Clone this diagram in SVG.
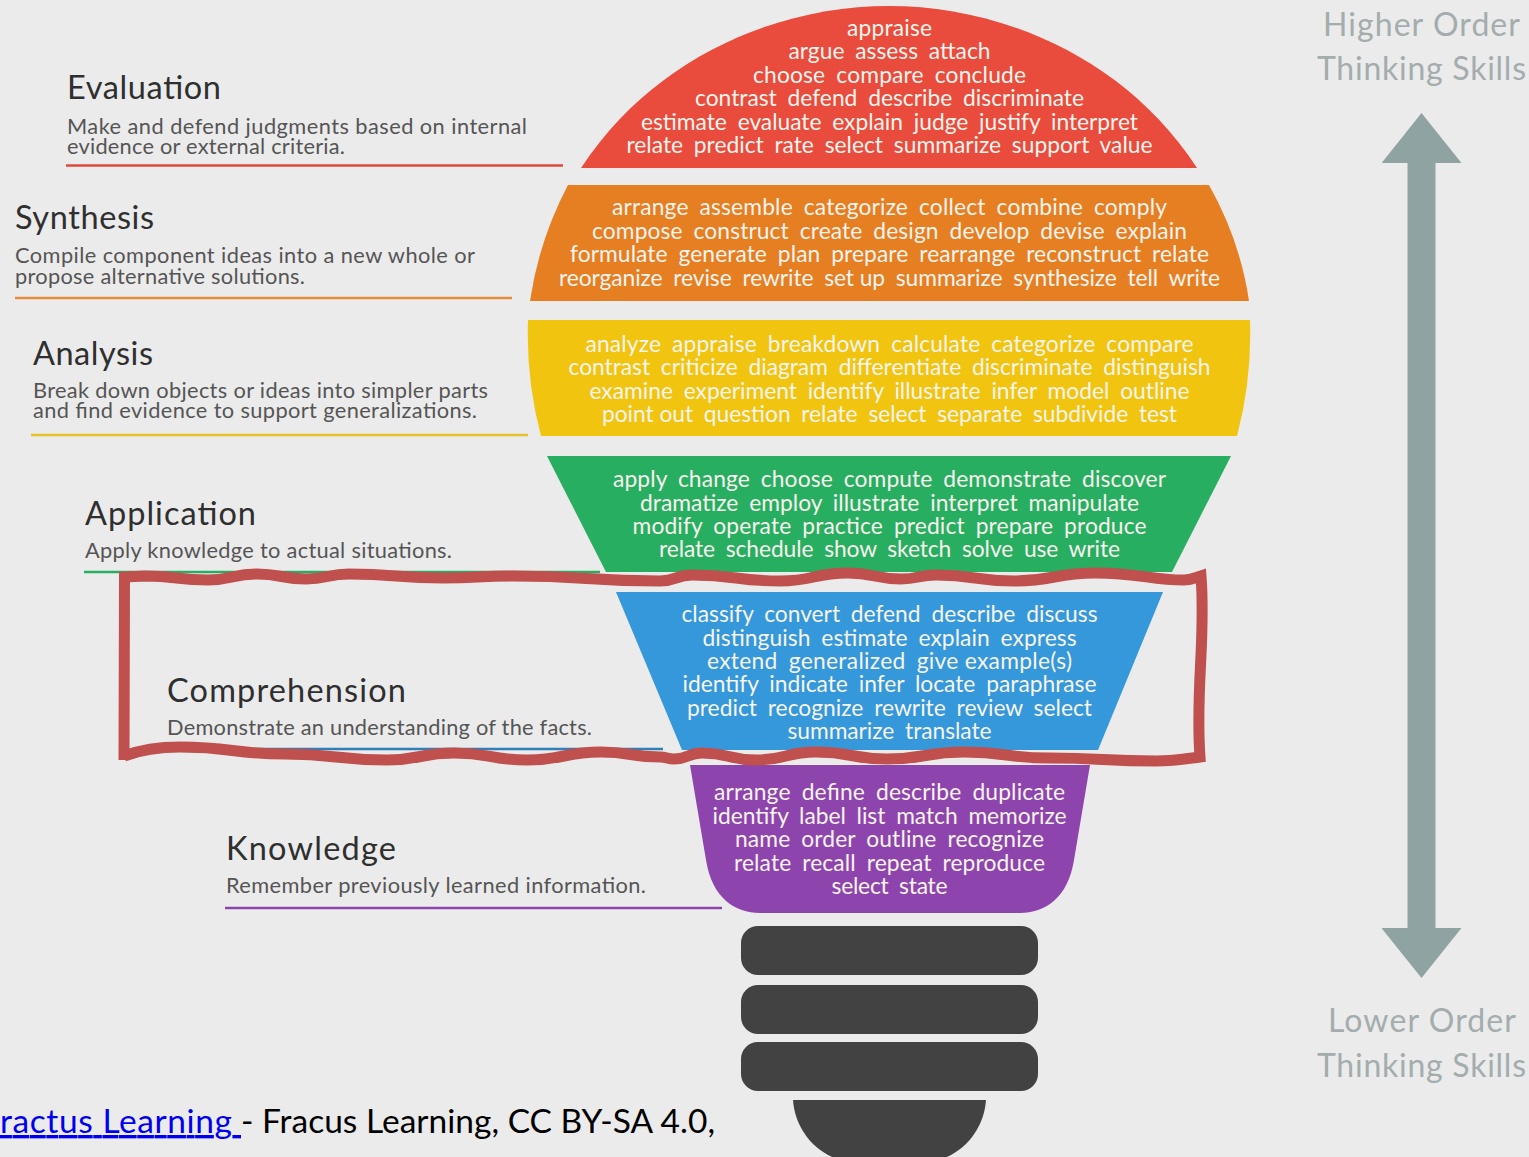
<svg xmlns="http://www.w3.org/2000/svg" width="1529" height="1157" viewBox="0 0 1529 1157">
<style>
text{font-family:Lato,"Open Sans",sans-serif}
.w{fill:#f8f4ee;font-size:22.8px;text-anchor:middle;word-spacing:5px}
.t{fill:#2f2f2f;font-size:32.500px}
.d{fill:#555;font-size:21.8px}
.s{fill:#a3adad;font-size:32px;text-anchor:middle}
.b{fill:#424242}
.r{fill:none;stroke-width:2.5}
</style>
<defs>
<marker id="ah" markerUnits="userSpaceOnUse" markerWidth="80" markerHeight="80" refX="0" refY="40" orient="auto-start-reverse" viewBox="0 0 50 80"><path d="M0 0L50 40L0 80Z" fill="#8fa3a3"/></marker>
</defs>
<rect width="1529" height="1157" fill="#ebebeb"/>
<g id="evaluation">
<path d="M581 168C655 55 780 6 889 6C998 6 1123 55 1197 168Z" fill="#e94b3c"/>
<text class="w" x="889.500" y="36" textLength="85">appraise</text>
<text class="w" x="889.500" y="59" textLength="202">argue assess attach</text>
<text class="w" x="889.500" y="83" textLength="273">choose compare conclude</text>
<text class="w" x="889.500" y="106" textLength="389">contrast defend describe discriminate</text>
<text class="w" x="889.500" y="130" textLength="497">estimate evaluate explain judge justify interpret</text>
<text class="w" x="889.500" y="153" textLength="526">relate predict rate select summarize support value</text>
<text class="t" x="67" y="99" textLength="154">Evaluation</text>
<text class="d" x="67" y="134" textLength="460">Make and defend judgments based on internal</text>
<text class="d" x="67" y="154" textLength="278">evidence or external criteria.</text>
<path class="r" d="M66 165.500H563" stroke="#e0483c"/>
</g>
<g id="synthesis">
<path d="M568 185H1209Q1240 240 1249 301H530Q539 240 568 185Z" fill="#e67e22"/>
<text class="w" x="889.500" y="215" textLength="555">arrange assemble categorize collect combine comply</text>
<text class="w" x="889.500" y="239" textLength="595">compose construct create design develop devise explain</text>
<text class="w" x="889.500" y="262" textLength="639">formulate generate plan prepare rearrange reconstruct relate</text>
<text class="w" x="889.500" y="286" textLength="661">reorganize revise rewrite <tspan style="word-spacing:0">set up</tspan> summarize synthesize tell write</text>
<text class="t" x="15" y="229" textLength="139">Synthesis</text>
<text class="d" x="15" y="263" textLength="460">Compile component ideas into a new whole or</text>
<text class="d" x="15" y="284" textLength="290">propose alternative solutions.</text>
<path class="r" d="M15 298H512" stroke="#e68a3c"/>
</g>
<g id="analysis">
<path d="M528 320H1250Q1252 380 1237 436H541Q526 380 528 320Z" fill="#f1c40f"/>
<text class="w" x="889.500" y="352" textLength="608">analyze appraise breakdown calculate categorize compare</text>
<text class="w" x="889.500" y="375" textLength="642">contrast criticize diagram differentiate discriminate distinguish</text>
<text class="w" x="889.500" y="399" textLength="600">examine experiment identify illustrate infer model outline</text>
<text class="w" x="889.500" y="422" textLength="575"><tspan style="word-spacing:0">point out</tspan> question relate select separate subdivide test</text>
<text class="t" x="33" y="365" textLength="120">Analysis</text>
<text class="d" x="33" y="398" textLength="455">Break down objects or ideas into simpler parts</text>
<text class="d" x="33" y="418" textLength="444">and find evidence to support generalizations.</text>
<path class="r" d="M31 435H528" stroke="#e8c22a"/>
</g>
<g id="application">
<path d="M547 456H1231L1172 572H606Z" fill="#27ae60"/>
<text class="w" x="889.500" y="487" textLength="553">apply change choose compute demonstrate discover</text>
<text class="w" x="889.500" y="511" textLength="499">dramatize employ illustrate interpret manipulate</text>
<text class="w" x="889.500" y="534" textLength="514">modify operate practice predict prepare produce</text>
<text class="w" x="889.500" y="557" textLength="461">relate schedule show sketch solve use write</text>
<text class="t" x="85" y="525" textLength="171">Application</text>
<text class="d" x="85" y="558" textLength="367">Apply knowledge to actual situations.</text>
<path class="r" d="M84 572H600" stroke="#27ae60"/>
</g>
<g id="comprehension">
<path d="M616 592H1163L1098 750H682Z" fill="#3498db"/>
<text class="w" x="889.500" y="622" textLength="416">classify convert defend describe discuss</text>
<text class="w" x="889.500" y="646" textLength="374">distinguish estimate explain express</text>
<text class="w" x="889.500" y="669" textLength="365">extend generalized <tspan style="word-spacing:0">give example(s)</tspan></text>
<text class="w" x="889.500" y="692" textLength="414">identify indicate infer locate paraphrase</text>
<text class="w" x="889.500" y="716" textLength="405">predict recognize rewrite review select</text>
<text class="w" x="889.500" y="739" textLength="204">summarize translate</text>
<text class="t" x="167" y="702" textLength="239">Comprehension</text>
<text class="d" x="167" y="735" textLength="425">Demonstrate an understanding of the facts.</text>
<path class="r" d="M166 749H663" stroke="#2f7fb8"/>
</g>
<g id="knowledge">
<path d="M690 765H1090L1074 860C1068 898 1045 913 1020 913H760C735 913 712 898 706 860Z" fill="#8e44ad"/>
<text class="w" x="889.500" y="800" textLength="351">arrange define describe duplicate</text>
<text class="w" x="889.500" y="824" textLength="354">identify label list match memorize</text>
<text class="w" x="889.500" y="847" textLength="309">name order outline recognize</text>
<text class="w" x="889.500" y="871" textLength="311">relate recall repeat reproduce</text>
<text class="w" x="889.500" y="894" textLength="116">select state</text>
<text class="t" x="226" y="860" textLength="170">Knowledge</text>
<text class="d" x="226" y="893" textLength="420">Remember previously learned information.</text>
<path class="r" d="M225 908H722" stroke="#8e44ad"/>
</g>
<g id="bulb-base">
<rect class="b" x="741" y="926" width="297" height="49" rx="17"/>
<rect class="b" x="741" y="985" width="297" height="49" rx="17"/>
<rect class="b" x="741" y="1042" width="297" height="49" rx="17"/>
<path class="b" d="M793 1100H986C984 1130 962 1157 930 1162H849C817 1157 795 1130 793 1100Z"/>
</g>
<g id="connectors">
<line x1="1421.500" y1="163" x2="1421.500" y2="928" stroke="#8fa3a3" stroke-width="28" marker-start="url(#ah)" marker-end="url(#ah)"/>
</g>
<g id="higher-order">
<text class="s" x="1421.500" y="36" textLength="197">Higher Order</text>
<text class="s" x="1421.500" y="80" textLength="209">Thinking Skills</text>
</g>
<g id="lower-order">
<text class="s" x="1422" y="1032" textLength="188">Lower Order</text>
<text class="s" x="1421.500" y="1077" textLength="209">Thinking Skills</text>
</g>
<g id="highlight">
<path d="M124 760L124.500 577L145 576C177 576 176 580 208 580C232 580 233 574 257 574C281 574 282 579 306 579C327 579 328 574 349 574C396 574 396 578 443 578C478 578 478 576 513 576C586 576 587 581 660 581C676 581 676 575 692 575C736 575 736 581 780 581C814 581 814 573 848 573C874 573 875 579 901 579C918 579 919 575 936 575C975 575 975 581 1014 581C1054 581 1055 573 1095 573C1140 573 1150 580 1184 580C1190 580 1195 578 1201 576C1206 640 1195 690 1200 757C1185 759 1175 761 1156 761C1102 761 1103 758 1049 758C1006 758 1007 752 964 752C925 752 926 759 887 759C851 759 852 752 816 752C786 752 786 760 756 760C729 760 729 753 702 753C688 753 688 759 674 759C667 759 667 757 660 757C630 757 631 752 601 752C564 752 564 760 527 760C490 760 490 753 454 753C420 753 421 760 387 760C336 760 336 754 285 754C232 754 233 747 180 747C155 747 140 750 124 756" fill="none" stroke="#c0504d" stroke-width="11" stroke-linejoin="miter"/>
</g>
<g id="attribution">
<text x="0" y="1133" font-size="33.500" fill="#0000ee" text-decoration="underline" xml:space="preserve" textLength="241">ractus Learning </text>
<text x="241" y="1133" font-size="33.500" fill="#000" textLength="474">- Fracus Learning, CC BY-SA 4.0,</text>
</g>
</svg>
